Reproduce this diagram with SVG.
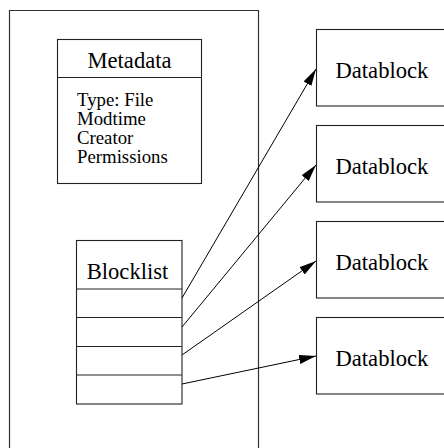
<svg xmlns="http://www.w3.org/2000/svg" width="444" height="448" viewBox="0 0 444 448">
  <defs>
    <marker id="arrow" viewBox="0 0 17 9" refX="17" refY="4.5" markerWidth="17" markerHeight="9" markerUnits="userSpaceOnUse" orient="auto">
      <path d="M0,0 L17,4.5 L0,9 Z" fill="#000"/>
    </marker>
  </defs>
  <style>
    .box { fill: #fff; stroke: #222; stroke-width: 1.1; }
    .frame { fill: none; stroke: #333; stroke-width: 1.2; }
    .big { font-family: "Liberation Serif", "Times New Roman", serif; font-size: 22.6px; fill: #000; }
    .small { font-family: "Liberation Serif", "Times New Roman", serif; font-size: 18.8px; fill: #000; }
    .link { fill: none; stroke: #000; stroke-width: 1; marker-end: url(#arrow); }
  </style>

  <!-- inode frame, open at the bottom -->
  <g id="inode">
    <path class="frame" d="M9.5,448 V10.5 H258.5 V448"/>
  </g>

  <g id="metadata">
    <rect class="box" x="57.5" y="39.5" width="144" height="144"/>
    <line class="box" x1="57.5" y1="77.5" x2="201.5" y2="77.5"/>
    <text class="big" x="129.5" y="68" text-anchor="middle">Metadata</text>
    <text class="small" x="77" y="106">Type: File</text>
    <text class="small" x="77" y="125">Modtime</text>
    <text class="small" x="77" y="144">Creator</text>
    <text class="small" x="77" y="163">Permissions</text>
  </g>

  <g id="blocklist">
    <rect class="box" x="76.5" y="240.5" width="105.5" height="163.5"/>
    <line class="box" x1="76.5" y1="289" x2="182" y2="289"/>
    <line class="box" x1="76.5" y1="317.5" x2="182" y2="317.5"/>
    <line class="box" x1="76.5" y1="346.5" x2="182" y2="346.5"/>
    <line class="box" x1="76.5" y1="375" x2="182" y2="375"/>
    <text class="big" x="127.5" y="279" text-anchor="middle">Blocklist</text>
  </g>

  <g id="datablock1">
    <rect class="box" x="316.5" y="29.5" width="160" height="76.5"/>
    <text class="big" x="335.5" y="78">Datablock</text>
  </g>
  <g id="datablock2">
    <rect class="box" x="316.5" y="125.5" width="160" height="76.5"/>
    <text class="big" x="335.5" y="174">Datablock</text>
  </g>
  <g id="datablock3">
    <rect class="box" x="316.5" y="221.5" width="160" height="76.5"/>
    <text class="big" x="335.5" y="270">Datablock</text>
  </g>
  <g id="datablock4">
    <rect class="box" x="316.5" y="317.5" width="160" height="76.5"/>
    <text class="big" x="335.5" y="366">Datablock</text>
  </g>

  <g id="connectors">
    <line class="link" x1="182" y1="298" x2="316" y2="69"/>
    <line class="link" x1="182" y1="327" x2="316" y2="165"/>
    <line class="link" x1="182" y1="355" x2="316" y2="261"/>
    <line class="link" x1="182" y1="384" x2="316" y2="356"/>
  </g>
</svg>
